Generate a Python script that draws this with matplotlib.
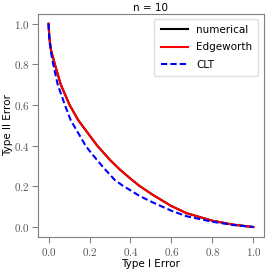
import matplotlib
matplotlib.use("Agg")
import matplotlib.pyplot as plt

# values (numerical curve sits under the Edgeworth one)
num_x = [0.0, 0.004, 0.012, 0.031, 0.06, 0.103, 0.145, 0.174, 0.238, 0.30, 0.348, 0.40, 0.443, 0.511, 0.60, 0.674, 0.80, 0.90, 1.0]
num_y = [1.0, 0.93, 0.87, 0.80, 0.70, 0.60, 0.526, 0.486, 0.40, 0.33, 0.283, 0.238, 0.203, 0.157, 0.103, 0.068, 0.031, 0.012, 0.0]

edg_x = [0.0, 0.004, 0.012, 0.031, 0.06, 0.103, 0.145, 0.174, 0.238, 0.30, 0.348, 0.40, 0.443, 0.511, 0.60, 0.674, 0.80, 0.90, 1.0]
edg_y = [1.0, 0.93, 0.87, 0.80, 0.70, 0.60, 0.526, 0.486, 0.40, 0.33, 0.283, 0.238, 0.203, 0.157, 0.103, 0.068, 0.031, 0.012, 0.0]

clt_x = [0.0, 0.004, 0.012, 0.023, 0.045, 0.08, 0.108, 0.181, 0.21, 0.27, 0.324, 0.36, 0.446, 0.511, 0.60, 0.674, 0.80, 0.90, 1.0]
clt_y = [1.0, 0.92, 0.86, 0.80, 0.70, 0.60, 0.526, 0.40, 0.362, 0.29, 0.231, 0.205, 0.152, 0.12, 0.08, 0.053, 0.026, 0.01, 0.0]

ticks = [0.0, 0.2, 0.4, 0.6, 0.8, 1.0]

plt.rcParams['mathtext.fontset'] = 'cm'

fig = plt.figure(figsize=(2.66, 2.72), dpi=100)
ax = fig.add_axes([0.144, 0.128, 0.847, 0.822])

ax.plot(num_x, num_y, color="black", lw=1.5, label="numerical")
ax.plot(edg_x, edg_y, color="red", lw=1.5, label="Edgeworth")
ax.plot(clt_x, clt_y, color="blue", lw=1.5, ls="--", dashes=(3, 1.5), label="CLT")

ax.set_xlim(-0.05, 1.05)
ax.set_ylim(-0.05, 1.05)
ax.set_xticks(ticks)
ax.set_yticks(ticks)
ax.set_xticklabels([f"${t:.1f}$" for t in ticks])
ax.set_yticklabels([f"${t:.1f}$" for t in ticks])
ax.tick_params(direction="out", length=4, width=0.8, color="#808080",
               labelsize=8, labelcolor="#555555", pad=2)
for s in ax.spines.values():
    s.set_color("#808080")
    s.set_linewidth(0.8)

ax.set_xlabel("Type I Error", fontsize=7.5, labelpad=1)
ax.set_ylabel("Type II Error", fontsize=7.5, labelpad=1)
ax.set_title("n = 10", fontsize=7.5, pad=2)

leg = ax.legend(loc="upper right", fontsize=7.5, handlelength=2.6,
                fancybox=True, framealpha=1, borderpad=0.6, labelspacing=0.7)
leg.get_frame().set_edgecolor("#dddddd")

fig.savefig("out.png", dpi=100)
